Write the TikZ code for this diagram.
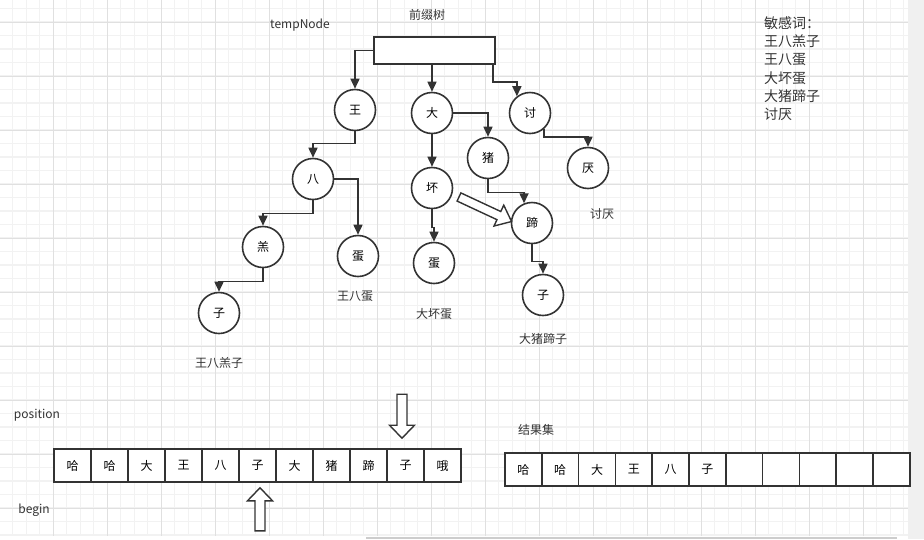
\documentclass[tikz,border=0pt]{standalone}
\usepackage{fontspec}
\setmainfont{Noto Sans CJK SC}
\usetikzlibrary{arrows.meta}
\definecolor{ink}{HTML}{333333}
\definecolor{gridmajor}{HTML}{E0E0E0}
\definecolor{gridminor}{HTML}{F2F2F2}
\definecolor{scrollbg}{HTML}{F0F0F0}
\definecolor{scrollbar}{HTML}{CDCDCD}
\tikzset{
  word/.style={circle, draw=ink, line width=1.6pt, minimum size=41pt, inner sep=0pt, fill=white, font=\fontsize{12}{14}\selectfont},
  cell/.style={draw=ink, line width=1.6pt, minimum width=37pt, minimum height=33pt, inner sep=0pt, fill=white, font=\fontsize{12}{14}\selectfont},
  link/.style={draw=ink, line width=1.6pt, -{Triangle[length=10pt,width=9pt]}},
  hollow/.style={draw=ink, line width=1.4pt, fill=white, line join=miter},
  lbl/.style={font=\fontsize{12}{14}\selectfont, text=ink}
}

\begin{document}
\begin{tikzpicture}[x=1pt, y=-1pt]
\useasboundingbox (0,0) rectangle (924,539);
\fill[white] (0,0) rectangle (924,539);

\begin{scope}
\clip (0,0) rectangle (908,536);
\foreach \i in {0,...,67} \draw[gridminor, line width=1.2pt] ({-0.7+13.5*\i},0) -- ({-0.7+13.5*\i},536);
\foreach \i in {-1,...,39} \draw[gridminor, line width=1.2pt] (0,{8.5+13.5*\i}) -- (908,{8.5+13.5*\i});
\foreach \i in {0,...,17} \draw[gridmajor, line width=0.9pt] ({-0.7+54*\i},0) -- ({-0.7+54*\i},536);
\foreach \i in {0,...,9} \draw[gridmajor, line width=0.9pt] (0,{22+54*\i}) -- (908,{22+54*\i});
\end{scope}
\fill[scrollbg] (908,0) rectangle (924,539);
\fill[scrollbar] (366,536.5) rectangle (897,539);

\node[draw=ink, line width=1.6pt, fill=white, minimum width=121pt, minimum height=27pt] (R) at (434.5,50.5) {};
\node[word] (A) at (355,110) {王};
\node[word] (B) at (432,113) {大};
\node[word] (C) at (530,113) {讨};
\node[word] (D) at (313,179) {八};
\node[word] (E) at (488,158) {猪};
\node[word] (F) at (432,188) {坏};
\node[word] (G) at (588,168) {厌};
\node[word] (H) at (263,247) {羔};
\node[word] (I) at (358,256) {蛋};
\node[word] (J) at (434,263) {蛋};
\node[word] (K) at (532,223) {蹄};
\node[word] (M) at (219,313) {子};
\node[word] (N) at (543,295) {子};

\draw[link] (R.west) -| (A);
\draw[link] (R.south -| B) -- (B);
\draw[link] ([xshift=-3pt]R.south east) -- ++(0,17) -| (C.128);
\draw[link] (A.south) -- ++(0,12) -| (D);
\draw[link] (D.south) -- ++(0,13) -| (H);
\draw[link] (D.east) -| (I);
\draw[link] (H.south) -- ++(0,13) -| (M);
\draw[link] (B.east) -| (E);
\draw[link] (B) -- (F);
\draw[link] (F.south) -- ++(0,18) -| (J);
\draw[link] (C.-48) -- ++(0,8) -| (G);
\draw[link] (E.south) -- ++(0,13) -| (K.112);
\draw[link] (K.south) -- ++(0,17) -| (N);

\draw[hollow, shift={(459,197)}, rotate=-25] (0,4.5) -- (44,4.5) -- (44,11.5) -- (58,0) -- (44,-11.5) -- (44,-4.5) -- (0,-4.5) -- cycle;

\node[lbl] (T) at (300,25) {tempNode};
\node[lbl] (P) at (427,15) {前缀树};
\node[lbl] (W1) at (219,363) {王八羔子};
\node[lbl] (W2) at (355,296) {王八蛋};
\node[lbl] (W3) at (434,314) {大坏蛋};
\node[lbl] (W4) at (543,339) {大猪蹄子};
\node[lbl] (W5) at (602,214) {讨厌};
\node[lbl, font=\fontsize{14}{18.2}\selectfont, align=left, anchor=north west, inner sep=0pt] (L) at (764,16.5) {敏感词：\\王八羔子\\王八蛋\\大坏蛋\\大猪蹄子\\讨厌};

\node[lbl] (Pos) at (37,415) {position};
\node[lbl] (Beg) at (34,510) {begin};
\node[lbl] (Res) at (536,430) {结果集};

\foreach \c [count=\i] in {哈,哈,大,王,八,子,大,猪,蹄,子,哦}
  \node[cell] (s\i) at ({54+37*\i-18.5},465.5) {\c};
\foreach \c [count=\i] in {哈,哈,大,王,八,子,{},{},{},{},{}}
  \node[cell] (r\i) at ({505+36.8*\i-18.4},469.5) {\c};

\draw[hollow] (s10.north) ++(-3.5,-10) -- ++(12.5,-13) -- ++(-7.5,0) -- ++(0,-31) -- ++(-10,0) -- ++(0,31) -- ++(-7.5,0) -- cycle;
\draw[hollow] (s6.south) ++(2.5,5) -- ++(12.5,13) -- ++(-7.5,0) -- ++(0,30) -- ++(-10,0) -- ++(0,-30) -- ++(-7.5,0) -- cycle;
\end{tikzpicture}
\end{document}
